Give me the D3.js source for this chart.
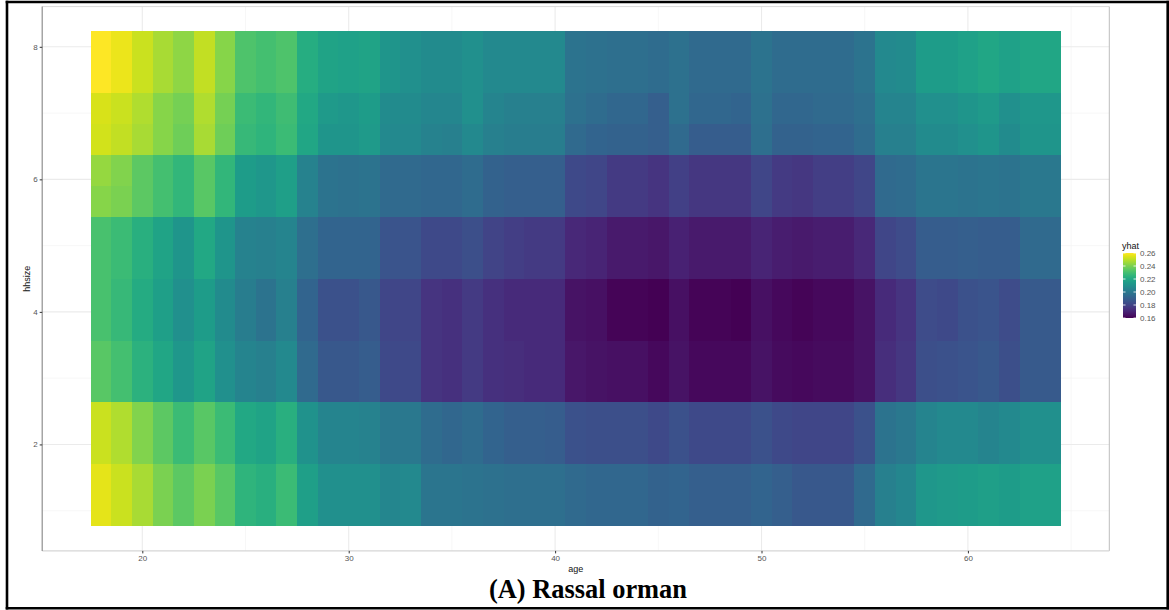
<!DOCTYPE html>
<html>
<head>
<meta charset="utf-8">
<script src="https://cdn.jsdelivr.net/npm/d3@7"></script>
<style>
  body { margin: 0; background: #fff; }
  text { font-family: "Liberation Sans", Arial, sans-serif; }
  text.caption { font-family: "Liberation Serif", "Times New Roman", serif; }
</style>
</head>
<body>
<svg id="chart" width="1169" height="610"></svg>
<script>
// ages (x) and household sizes (y) of the prediction grid
var ages = [18, 19, 20, 21, 22, 23, 24, 25, 26, 27, 28, 29, 30, 31, 32, 33, 34, 35, 36, 37, 38, 39, 40,
    41, 42, 43, 44, 45, 46, 47, 48, 49, 50, 51, 52, 53, 54, 55, 56, 57, 58, 59, 60, 61, 62, 63, 64];
var hhsizes = [1, 1.467, 1.933, 2.4, 2.867, 3.333, 3.8, 4.267, 4.733, 5.2, 5.667, 6.133, 6.6, 7.067, 7.533, 8];

// predicted yhat, one array per hhsize level
var yhat_1_00 = [.256,.252,.247,.240,.235,.240,.234,.225,.223,.228,.216,.210,.210,.210,.206,.207,.199,.199,.198,.197,.196,.196,.196,.194,.193,.193,.193,.191,.192,.190,.190,.190,.192,.190,.187,.187,.187,.194,.203,.206,.213,.214,.215,.216,.215,.217,.217];
var yhat_1_47 = [.256,.252,.247,.240,.235,.240,.234,.225,.223,.228,.216,.210,.210,.210,.206,.207,.199,.199,.198,.197,.196,.196,.196,.194,.193,.193,.193,.191,.192,.190,.190,.190,.192,.190,.187,.187,.187,.194,.203,.206,.213,.214,.215,.216,.215,.217,.217];
var yhat_1_93 = [.252,.248,.241,.235,.228,.234,.228,.220,.218,.223,.211,.205,.205,.204,.200,.200,.195,.193,.195,.192,.190,.190,.189,.185,.184,.184,.184,.182,.185,.182,.182,.182,.185,.182,.181,.181,.181,.185,.198,.200,.205,.207,.207,.205,.207,.210,.210];
var yhat_2_40 = [.252,.248,.241,.235,.228,.234,.228,.220,.218,.223,.211,.205,.205,.204,.200,.200,.195,.193,.195,.192,.190,.190,.189,.185,.184,.184,.184,.182,.185,.182,.182,.182,.185,.182,.181,.181,.181,.185,.198,.200,.205,.207,.207,.205,.207,.210,.210];
var yhat_2_87 = [.234,.230,.224,.219,.213,.218,.210,.205,.203,.207,.194,.187,.187,.189,.182,.182,.175,.174,.177,.174,.173,.172,.172,.166,.165,.164,.164,.162,.165,.162,.162,.162,.165,.163,.162,.163,.163,.165,.173,.176,.184,.185,.186,.187,.184,.188,.188];
var yhat_3_33 = [.234,.230,.224,.219,.213,.218,.210,.205,.203,.207,.194,.187,.187,.189,.182,.182,.175,.174,.177,.174,.173,.172,.172,.166,.165,.164,.164,.162,.165,.162,.162,.162,.165,.163,.162,.163,.163,.165,.173,.176,.184,.185,.186,.187,.184,.188,.188];
var yhat_3_80 = [.231,.227,.221,.216,.210,.215,.208,.202,.198,.203,.192,.185,.185,.187,.181,.181,.175,.174,.177,.174,.172,.172,.172,.165,.164,.161,.161,.160,.164,.161,.161,.160,.164,.162,.161,.162,.162,.165,.172,.175,.183,.182,.185,.186,.183,.188,.188];
var yhat_4_27 = [.231,.227,.221,.216,.210,.215,.208,.202,.198,.203,.192,.185,.185,.187,.181,.181,.175,.174,.177,.174,.172,.172,.172,.165,.164,.161,.161,.160,.164,.161,.161,.160,.164,.162,.161,.162,.162,.165,.172,.175,.183,.182,.185,.186,.183,.188,.188];
var yhat_4_73 = [.231,.228,.223,.218,.212,.220,.212,.204,.203,.205,.196,.192,.192,.192,.186,.186,.182,.182,.184,.180,.178,.177,.177,.171,.170,.167,.167,.166,.169,.167,.167,.167,.170,.168,.167,.168,.168,.171,.181,.183,.189,.189,.190,.189,.189,.194,.194];
var yhat_5_20 = [.231,.228,.223,.218,.212,.220,.212,.204,.203,.205,.196,.192,.192,.192,.186,.186,.182,.182,.184,.180,.178,.177,.177,.171,.170,.167,.167,.166,.169,.167,.167,.167,.170,.168,.167,.168,.168,.171,.181,.183,.189,.189,.190,.189,.189,.194,.194];
var yhat_5_67 = [.242,.240,.235,.230,.226,.234,.226,.215,.213,.216,.204,.198,.197,.198,.194,.194,.193,.193,.195,.191,.190,.190,.190,.182,.181,.177,.177,.175,.179,.176,.176,.176,.181,.177,.176,.178,.178,.181,.194,.195,.199,.199,.198,.199,.198,.200,.200];
var yhat_6_13 = [.244,.241,.235,.230,.226,.234,.226,.215,.213,.216,.204,.198,.197,.198,.194,.194,.193,.193,.195,.191,.190,.190,.190,.182,.181,.177,.177,.175,.179,.176,.176,.176,.181,.177,.176,.178,.178,.181,.194,.195,.199,.199,.198,.199,.198,.200,.200];
var yhat_6_60 = [.253,.251,.247,.242,.238,.247,.238,.227,.225,.228,.219,.212,.212,.214,.207,.207,.204,.203,.207,.203,.202,.202,.202,.194,.192,.191,.191,.190,.194,.189,.189,.189,.196,.191,.191,.192,.192,.195,.203,.203,.208,.208,.210,.212,.208,.212,.212];
var yhat_7_07 = [.254,.252,.248,.242,.239,.248,.239,.228,.226,.229,.220,.214,.213,.215,.208,.208,.206,.206,.210,.205,.203,.203,.203,.197,.195,.193,.193,.190,.197,.193,.193,.192,.197,.193,.193,.194,.194,.196,.205,.205,.210,.210,.212,.214,.210,.213,.213];
var yhat_7_53 = [.260,.257,.252,.247,.243,.251,.242,.232,.230,.232,.222,.218,.217,.218,.212,.210,.208,.208,.210,.207,.207,.207,.207,.198,.197,.196,.196,.195,.197,.194,.194,.194,.198,.195,.195,.195,.195,.198,.207,.208,.215,.215,.217,.219,.217,.219,.219];
var yhat_8_00 = [.260,.257,.252,.247,.243,.251,.242,.232,.230,.232,.222,.218,.217,.218,.212,.210,.208,.208,.210,.207,.207,.207,.207,.198,.197,.196,.196,.195,.197,.194,.194,.194,.198,.195,.195,.195,.195,.198,.207,.208,.215,.215,.217,.219,.217,.219,.219];

var xTicks = [20, 30, 40, 50, 60];
var yTicks = [2, 4, 6, 8];
var legendTicks = [0.16, 0.18, 0.20, 0.22, 0.24, 0.26];

var rows = [yhat_1_00, yhat_1_47, yhat_1_93, yhat_2_40, yhat_2_87, yhat_3_33, yhat_3_80, yhat_4_27,
    yhat_4_73, yhat_5_20, yhat_5_67, yhat_6_13, yhat_6_60, yhat_7_07, yhat_7_53, yhat_8_00];

var cells = [];
rows.forEach(function (row, j) {
    row.forEach(function (v, i) {
        cells.push({ age: ages[i], hhsize: hhsizes[j], yhat: v });
    });
});

var svg = d3.select("#chart");
var panel = { left: 42.2, right: 1109.3, top: 6.6, bottom: 550.9 };

var ageStep = 1, hhStep = (hhsizes[15] - hhsizes[0]) / 15;
var xLo = ages[0] - ageStep / 2, xHi = ages[ages.length - 1] + ageStep / 2;
var yLo = hhsizes[0] - hhStep / 2, yHi = hhsizes[15] + hhStep / 2;
var xPad = (xHi - xLo) * 0.05, yPad = (yHi - yLo) * 0.05;

var x = d3.scaleLinear().domain([xLo - xPad, xHi + xPad]).range([panel.left, panel.right]);
var y = d3.scaleLinear().domain([yLo - yPad, yHi + yPad]).range([panel.bottom, panel.top]);

var vmin = d3.min(cells, function (d) { return d.yhat; });
var vmax = d3.max(cells, function (d) { return d.yhat; });
var color = d3.scaleSequential(d3.interpolateViridis).domain([vmin, vmax]);

// grid
var g = svg.append("g");
var minorX = [25, 35, 45, 55, 65], minorY = [1, 3, 5, 7];
g.selectAll(".gxm").data(minorX).enter().append("line")
    .attr("x1", function (d) { return x(d); }).attr("x2", function (d) { return x(d); })
    .attr("y1", panel.top).attr("y2", panel.bottom)
    .attr("stroke", "#f2f2f2").attr("stroke-width", 0.6);
g.selectAll(".gym").data(minorY).enter().append("line")
    .attr("y1", function (d) { return y(d); }).attr("y2", function (d) { return y(d); })
    .attr("x1", panel.left).attr("x2", panel.right)
    .attr("stroke", "#f2f2f2").attr("stroke-width", 0.6);
g.selectAll(".gx").data(xTicks).enter().append("line")
    .attr("x1", function (d) { return x(d); }).attr("x2", function (d) { return x(d); })
    .attr("y1", panel.top).attr("y2", panel.bottom)
    .attr("stroke", "#ebebeb").attr("stroke-width", 1.1);
g.selectAll(".gy").data(yTicks).enter().append("line")
    .attr("y1", function (d) { return y(d); }).attr("y2", function (d) { return y(d); })
    .attr("x1", panel.left).attr("x2", panel.right)
    .attr("stroke", "#ebebeb").attr("stroke-width", 1.1);

// tiles
svg.append("g").selectAll("rect").data(cells).enter().append("rect")
    .attr("x", function (d) { return x(d.age - ageStep / 2); })
    .attr("width", function (d) { return x(d.age + ageStep / 2) - x(d.age - ageStep / 2); })
    .attr("y", function (d) { return y(d.hhsize + hhStep / 2); })
    .attr("height", function (d) { return y(d.hhsize - hhStep / 2) - y(d.hhsize + hhStep / 2); })
    .attr("fill", function (d) { return color(d.yhat); })
    .attr("shape-rendering", "crispEdges");

// panel border and axis lines
svg.append("line").attr("x1", panel.left).attr("x2", panel.right).attr("y1", panel.top).attr("y2", panel.top)
    .attr("stroke", "#dadada").attr("stroke-width", 1);
svg.append("line").attr("x1", panel.right).attr("x2", panel.right).attr("y1", panel.top).attr("y2", panel.bottom)
    .attr("stroke", "#bdbdbd").attr("stroke-width", 1);
svg.append("line").attr("x1", panel.left).attr("x2", panel.right).attr("y1", panel.bottom).attr("y2", panel.bottom)
    .attr("stroke", "#d6d6d6").attr("stroke-width", 1.2);
svg.append("line").attr("x1", panel.left).attr("x2", panel.left).attr("y1", panel.top).attr("y2", panel.bottom)
    .attr("stroke", "#8f8f8f").attr("stroke-width", 1.2);

// axes
var xAxis = d3.axisBottom(x).tickValues(xTicks).tickSize(2.5).tickPadding(2).tickFormat(d3.format("d"));
var gX = svg.append("g").attr("transform", "translate(0," + panel.bottom + ")").call(xAxis);
var yAxis = d3.axisLeft(y).tickValues(yTicks).tickSize(2.5).tickPadding(2).tickFormat(d3.format("d"));
var gY = svg.append("g").attr("transform", "translate(" + panel.left + ",0)").call(yAxis);
[gX, gY].forEach(function (ax) {
    ax.select(".domain").remove();
    ax.selectAll(".tick line").attr("stroke", "#333");
    ax.selectAll(".tick text").attr("fill", "#555").attr("font-size", 8);
});

svg.append("text").attr("x", (panel.left + panel.right) / 2).attr("y", 572)
    .attr("text-anchor", "middle").attr("font-size", 9).attr("fill", "#111").text("age");
svg.append("text").attr("transform", "translate(29.5," + ((panel.top + panel.bottom) / 2) + ") rotate(-90)")
    .attr("text-anchor", "middle").attr("font-size", 9).attr("fill", "#111").text("hhsize");

// legend
var barTop = 253, barBottom = 318, barLeft = 1123, barW = 13;
var defs = svg.append("defs");
var grad = defs.append("linearGradient").attr("id", "vir")
    .attr("x1", 0).attr("y1", 1).attr("x2", 0).attr("y2", 0);
d3.range(0, 1.001, 0.05).forEach(function (t) {
    grad.append("stop").attr("offset", t).attr("stop-color", d3.interpolateViridis(t));
});
var ly = d3.scaleLinear().domain([vmin, vmax]).range([barBottom, barTop]);
svg.append("text").attr("x", barLeft - 1).attr("y", 249).attr("font-size", 9).attr("fill", "#111").text("yhat");
svg.append("rect").attr("x", barLeft).attr("y", barTop).attr("width", barW).attr("height", barBottom - barTop)
    .attr("fill", "url(#vir)");
var lg = svg.append("g");
legendTicks.forEach(function (v) {
    lg.append("line").attr("x1", barLeft).attr("x2", barLeft + 2.5).attr("y1", ly(v)).attr("y2", ly(v))
        .attr("stroke", "#fff").attr("stroke-width", 0.8);
    lg.append("line").attr("x1", barLeft + barW - 2.5).attr("x2", barLeft + barW).attr("y1", ly(v)).attr("y2", ly(v))
        .attr("stroke", "#fff").attr("stroke-width", 0.8);
    lg.append("text").attr("x", barLeft + barW + 4).attr("y", ly(v)).attr("dy", "0.35em")
        .attr("font-size", 8).attr("fill", "#555").text(d3.format(".2f")(v));
});

// caption and outer frame
svg.append("text").attr("class", "caption").attr("x", 588).attr("y", 598).attr("text-anchor", "middle")
    .attr("font-weight", "bold").attr("font-size", 27).attr("fill", "#000")
    .attr("textLength", 198).attr("lengthAdjust", "spacingAndGlyphs")
    .text("(A) Rassal orman");

var fr = svg.append("g").attr("stroke", "#000").attr("stroke-width", 2.6);
fr.append("line").attr("x1", 5.7).attr("x2", 1169).attr("y1", 2).attr("y2", 2);
fr.append("line").attr("x1", 5.7).attr("x2", 1169).attr("y1", 608.2).attr("y2", 608.2);
fr.append("line").attr("x1", 7).attr("x2", 7).attr("y1", 0.7).attr("y2", 609.5);
fr.append("line").attr("x1", 1167.7).attr("x2", 1167.7).attr("y1", 0.7).attr("y2", 609.5);
</script>
</body>
</html>
